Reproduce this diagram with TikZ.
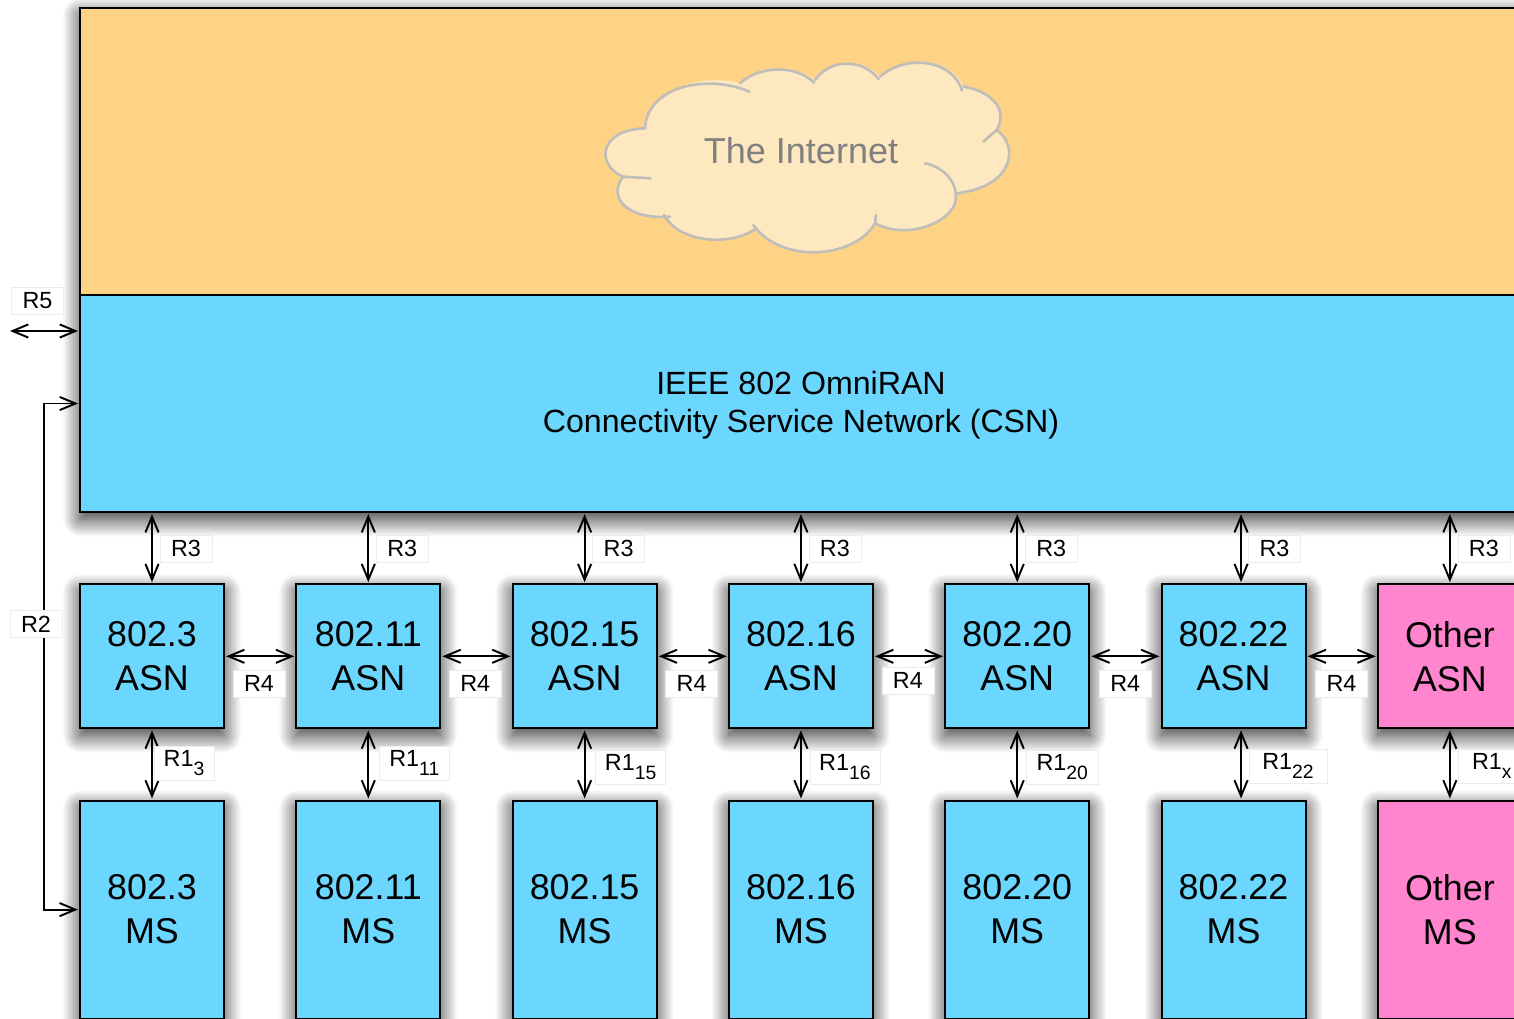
\documentclass[tikz,border=0pt]{standalone}
\usepackage{fontspec}
\setmainfont{Liberation Sans}
\usetikzlibrary{arrows.meta, positioning, shadows.blur}

\definecolor{wanorange}{RGB}{254,211,134}
\definecolor{netblue}{RGB}{107,214,254}
\definecolor{otherpink}{RGB}{255,133,206}
\definecolor{cloudfill}{RGB}{254,232,192}
\definecolor{cloudline}{RGB}{192,190,184}
\newcommand{\rsub}[1]{\raisebox{-5pt}{\fontsize{11}{11}\selectfont #1}}

\begin{document}
\begin{tikzpicture}[
      x=0.02cm, y=-0.02cm,
      node distance=1.447cm,
      soft/.style={blur shadow={shadow xshift=0pt, shadow yshift=-4pt, shadow blur radius=10pt, shadow blur steps=40, shadow opacity=85}},
      flatbox/.style={rectangle, draw=black, line width=1.1pt, inner sep=0pt, outer sep=0pt, align=center, font=\fontsize{20.4}{25}\selectfont},
      box/.style={flatbox, soft},
      asn/.style={box, fill=netblue, minimum width=2.88cm, minimum height=2.88cm},
      ms/.style={box, fill=netblue, minimum width=2.88cm, minimum height=4.36cm},
      otherasn/.style={asn, fill=otherpink},
      otherms/.style={ms, fill=otherpink},
      panel/.style={box, fill=netblue, minimum width=28.84cm, minimum height=10.09cm},
      wan/.style={flatbox, fill=wanorange, minimum width=28.84cm, minimum height=5.75cm},
      csnbox/.style={flatbox, fill=netblue, minimum width=28.84cm, minimum height=4.34cm, font=\fontsize{18.3}{21.5}\selectfont},
      lbl/.style={rectangle, draw=black!8, line width=0.4pt, fill=white, inner sep=0pt, outer sep=0pt, minimum width=1.04cm, minimum height=0.54cm, font=\fontsize{13.3}{14}\selectfont},
      lblsub/.style={lbl, minimum height=0.68cm},
      cloudstroke/.style={cloudline, line width=1.5pt, line cap=round},
      arrow/.style={{Straight Barb[length=9pt,width=7.5pt]}-{Straight Barb[length=9pt,width=7.5pt]}, line width=1.1pt, shorten <=1.2pt, shorten >=1.2pt},
      onearrow/.style={-{Straight Barb[length=9pt,width=7.5pt]}, line width=1.1pt, shorten >=1.2pt}
    ]
    \useasboundingbox (0,0) rectangle (1514,1018);

    % top blocks
    \node[panel] (back) at (801,260) {};
    \node[csnbox] (csn) at (801,403.5) {\rule{0pt}{15.5pt}IEEE 802 OmniRAN\\Connectivity Service Network (CSN)};
    \node[wan, above=0pt of csn] (wan) {};

    % cloud
    \begin{scope}[shift={(590,50)}, x=0.00667cm, y=-0.00667cm]
      \fill[cloudfill] (160,235) .. controls (170,110) and (350,70) .. (450,100)
        .. controls (510,45) and (620,45) .. (675,90)
        .. controls (720,25) and (820,25) .. (870,80)
        .. controls (950,10) and (1090,30) .. (1120,110)
        .. controls (1190,120) and (1260,170) .. (1220,240)
        .. controls (1290,290) and (1270,410) .. (1100,430)
        .. controls (1110,520) and (950,570) .. (855,520)
        .. controls (790,630) and (570,640) .. (500,535)
        .. controls (420,590) and (270,580) .. (230,505)
        .. controls (110,510) and (50,440) .. (100,380)
        .. controls (20,350) and (20,240) .. (160,235) -- cycle;
      \draw[cloudstroke] (165,235) .. controls (170,110) and (350,70) .. (478,125);
      \draw[cloudstroke] (450,100) .. controls (510,45) and (620,45) .. (672,98);
      \draw[cloudstroke] (675,90) .. controls (720,25) and (820,25) .. (866,88);
      \draw[cloudstroke] (870,80) .. controls (950,10) and (1090,30) .. (1116,122);
      \draw[cloudstroke] (1120,110) .. controls (1190,120) and (1260,170) .. (1220,240) -- (1180,275);
      \draw[cloudstroke] (1220,240) .. controls (1290,290) and (1270,410) .. (1100,430);
      \draw[cloudstroke] (1005,340) .. controls (1060,350) and (1110,400) .. (1095,460) .. controls (1075,520) and (950,570) .. (855,520) -- (858,495);
      \draw[cloudstroke] (855,520) .. controls (790,630) and (570,640) .. (490,525);
      \draw[cloudstroke] (500,535) .. controls (420,590) and (270,580) .. (222,495);
      \draw[cloudstroke] (240,500) .. controls (110,510) and (50,440) .. (100,380) -- (182,385);
      \draw[cloudstroke] (100,380) .. controls (20,350) and (20,240) .. (165,235);
    \end{scope}
    \node[text=black!50, font=\fontsize{20.5}{24}\selectfont] (inet) at (801,151) {The Internet};

    % access networks
    \node[asn] (asn1) at (152,656.3) {802.3\\ASN};
    \node[asn, right=of asn1] (asn2) {802.11\\ASN};
    \node[asn, right=of asn2] (asn3) {802.15\\ASN};
    \node[asn, right=of asn3] (asn4) {802.16\\ASN};
    \node[asn, right=of asn4] (asn5) {802.20\\ASN};
    \node[asn, right=of asn5] (asn6) {802.22\\ASN};
    \node[otherasn, right=of asn6] (asn7) {Other\\ASN};

    % mobile stations
    \node[ms, below=of asn1] (ms1) {802.3\\MS};
    \node[ms, below=of asn2] (ms2) {802.11\\MS};
    \node[ms, below=of asn3] (ms3) {802.15\\MS};
    \node[ms, below=of asn4] (ms4) {802.16\\MS};
    \node[ms, below=of asn5] (ms5) {802.20\\MS};
    \node[ms, below=of asn6] (ms6) {802.22\\MS};
    \node[otherms, below=of asn7] (ms7) {Other\\MS};

    % R3
    \draw[arrow] (csn.south -| asn1.north) -- (asn1.north);
    \draw[arrow] (csn.south -| asn2.north) -- (asn2.north);
    \draw[arrow] (csn.south -| asn3.north) -- (asn3.north);
    \draw[arrow] (csn.south -| asn4.north) -- (asn4.north);
    \draw[arrow] (csn.south -| asn5.north) -- (asn5.north);
    \draw[arrow] ([xshift=0.15cm]csn.south -| asn6.north) -- ([xshift=0.15cm]asn6.north);
    \draw[arrow] (csn.south -| asn7.north) -- (asn7.north);

    % R4
    \draw[arrow] (asn1.east) -- (asn2.west);
    \draw[arrow] (asn2.east) -- (asn3.west);
    \draw[arrow] (asn3.east) -- (asn4.west);
    \draw[arrow] (asn4.east) -- (asn5.west);
    \draw[arrow] (asn5.east) -- (asn6.west);
    \draw[arrow] (asn6.east) -- (asn7.west);

    % R1
    \draw[arrow] (asn1.south) -- (ms1.north);
    \draw[arrow] (asn2.south) -- (ms2.north);
    \draw[arrow] (asn3.south) -- (ms3.north);
    \draw[arrow] (asn4.south) -- (ms4.north);
    \draw[arrow] (asn5.south) -- (ms5.north);
    \draw[arrow] ([xshift=0.15cm]asn6.south) -- ([xshift=0.15cm]ms6.north);
    \draw[arrow] (asn7.south) -- (ms7.north);

    % R2 and R5
    \coordinate (r2turn) at (44,600);
    \coordinate (r5free) at (10,331);
    \draw[onearrow] (r2turn) |- (csn.west);
    \draw[onearrow] (r2turn) |- (ms1.west);
    \draw[arrow, shorten <=0pt] (r5free) -- (r5free -| csn.west);

    % labels
    \node[lbl] (r5) at (37.5,301) {R5};
    \node[lbl] (r2) at (36,624) {R2};

    \node[lbl, above right=0.44cm and 0.16cm of asn1.north] (r31) {R3};
    \node[lbl, above right=0.44cm and 0.16cm of asn2.north] (r32) {R3};
    \node[lbl, above right=0.44cm and 0.16cm of asn3.north] (r33) {R3};
    \node[lbl, above right=0.44cm and 0.16cm of asn4.north] (r34) {R3};
    \node[lbl, above right=0.44cm and 0.16cm of asn5.north] (r35) {R3};
    \node[lbl, above right=0.44cm and 0.3cm of asn6.north] (r36) {R3};
    \node[lbl, above right=0.44cm and 0.16cm of asn7.north] (r37) {R3};

    \node[lbl, below right=0.28cm and 0.18cm of asn1.east] (r41) {R4};
    \node[lbl, below right=0.28cm and 0.18cm of asn2.east] (r42) {R4};
    \node[lbl, below right=0.28cm and 0.18cm of asn3.east] (r43) {R4};
    \node[lbl, below right=0.22cm and 0.18cm of asn4.east] (r44) {R4};
    \node[lbl, below right=0.28cm and 0.2cm of asn5.east] (r45) {R4};
    \node[lbl, below right=0.28cm and 0.2cm of asn6.east] (r46) {R4};

    \node[lblsub, minimum width=1.2cm, below right=0.36cm and 0.04cm of asn1.south] (r11) {R1\rsub{3}};
    \node[lblsub, minimum width=1.4cm, below right=0.36cm and 0.22cm of asn2.south] (r12) {R1\rsub{11}};
    \node[lblsub, minimum width=1.4cm, below right=0.44cm and 0.22cm of asn3.south] (r13) {R1\rsub{15}};
    \node[lblsub, minimum width=1.4cm, below right=0.44cm and 0.18cm of asn4.south] (r14) {R1\rsub{16}};
    \node[lblsub, minimum width=1.44cm, below right=0.44cm and 0.18cm of asn5.south] (r15) {R1\rsub{20}};
    \node[lblsub, minimum width=1.56cm, below right=0.42cm and 0.31cm of asn6.south] (r16) {R1\rsub{22}};
    \node[lblsub, minimum width=1.36cm, below right=0.42cm and 0.16cm of asn7.south] (r17) {R1\rsub{x}};
  \end{tikzpicture}
\end{document}
